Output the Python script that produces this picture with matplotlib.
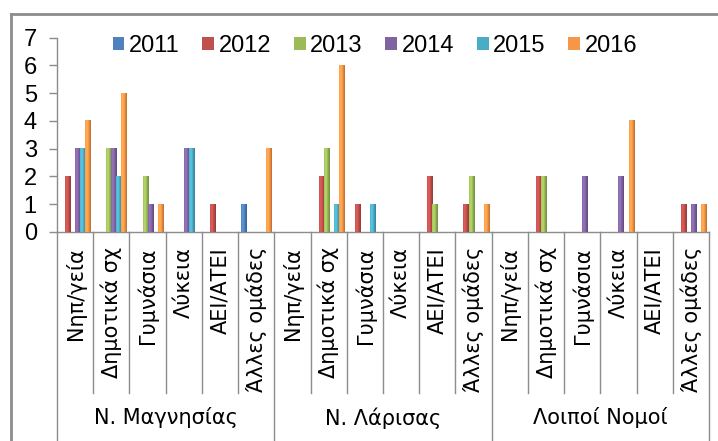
import numpy as np
import matplotlib.pyplot as plt
from matplotlib.colors import to_rgb
from matplotlib.patches import Patch
from matplotlib.lines import Line2D
import matplotlib.transforms as mtransforms

plt.rcParams['font.family'] = ['Liberation Sans', 'DejaVu Sans']

# Δεδομένα
years = ['2011', '2012', '2013', '2014', '2015', '2016']
schools = ['Νηπ/γεία', 'Δημοτικά σχ', 'Γυμνάσια', 'Λύκεια', 'ΑΕΙ/ΑΤΕΙ', 'Άλλες ομάδες']
regions = ['Ν. Μαγνησίας', 'Ν. Λάρισας', 'Λοιποί Νομοί']

# 18 κατηγορίες: (περιοχή x τύπος σχολείου)
v2011 = [0, 0, 0, 0, 0, 1,  0, 0, 0, 0, 0, 0,  0, 0, 0, 0, 0, 0]
v2012 = [2, 0, 0, 0, 1, 0,  0, 2, 1, 0, 2, 1,  0, 2, 0, 0, 0, 1]
v2013 = [0, 3, 2, 0, 0, 0,  0, 3, 0, 0, 1, 2,  0, 2, 0, 0, 0, 0]
v2014 = [3, 3, 1, 3, 0, 0,  0, 0, 0, 0, 0, 0,  0, 0, 2, 2, 0, 1]
v2015 = [3, 2, 0, 3, 0, 0,  0, 1, 1, 0, 0, 0,  0, 0, 0, 0, 0, 0]
v2016 = [4, 5, 1, 0, 0, 3,  0, 6, 0, 0, 0, 1,  0, 0, 0, 4, 0, 1]

series = [v2011, v2012, v2013, v2014, v2015, v2016]
colors = ['#4F81BD', '#C0504D', '#9BBB59', '#8064A2', '#4BACC6', '#F79646']

W, H = 718, 441
fig = plt.figure(figsize=(W / 100, H / 100), dpi=100)

# περιοχή σχεδίασης σε pixels
x0, x1 = 57, 709
y0, y1 = 232, 37.5
ax = fig.add_axes([x0 / W, 1 - y0 / H, (x1 - x0) / W, (y0 - y1) / H])

n = len(schools) * len(regions)
x = np.arange(n)
w = 1 / 7.2


def grad_bar(ax, bar, color):
    # οριζόντια διαβάθμιση όπως στο Excel 2007
    c = np.array(to_rgb(color))
    t = np.linspace(0, 1, 32)
    k = 1.0 + 0.18 * np.exp(-((t - 0.35) / 0.3) ** 2) - 0.25 * t ** 2
    img = np.clip(c[None, :] * k[:, None], 0, 1)[None, :, :]
    bx, by = bar.get_x(), bar.get_y()
    ax.imshow(img, extent=(bx, bx + bar.get_width(), by, by + bar.get_height()),
              aspect='auto', zorder=3, interpolation='bilinear')


for i, (vals, col) in enumerate(zip(series, colors)):
    bars = ax.bar(x + (i - 2.5) * w, vals, width=w, color=col, zorder=2, linewidth=0)
    for b, v in zip(bars, vals):
        if v > 0:
            grad_bar(ax, b, col)

ax.set_xlim(-0.5, n - 0.5)
ax.set_ylim(0, 7)
ax.set_yticks(range(0, 8))
ax.tick_params(axis='y', direction='out', length=5.5, width=1, color='#8c8c8c',
               labelsize=17, pad=9)
ax.set_xticks([])
for s in ['top', 'right']:
    ax.spines[s].set_visible(False)
for s in ['left', 'bottom']:
    ax.spines[s].set_color('#8c8c8c')
    ax.spines[s].set_linewidth(1)

# άξονας κατηγοριών δύο επιπέδων
trans = mtransforms.blended_transform_factory(ax.transData, ax.transAxes)
hpx = y0 - y1
inner_bot = -(393 - y0) / hpx
outer_bot = -(H - y0 + 5) / hpx
for k in range(n + 1):
    bot = outer_bot if k % 6 == 0 else inner_bot
    ax.plot([k - 0.5, k - 0.5], [0, bot], color='#8c8c8c', lw=1,
            transform=trans, clip_on=False)

lab_top = -(247 - y0) / hpx
for k in range(n):
    ax.text(k, lab_top, schools[k % 6], rotation=90, ha='center', va='top',
            fontsize=15, transform=trans, family=['DejaVu Sans'])

grp_y = -(418 - y0) / hpx
for g, r in enumerate(regions):
    ax.text(g * 6 + 2.5, grp_y, r, ha='center', va='center', fontsize=15,
            transform=trans, family=['DejaVu Sans'])

# υπόμνημα
handles = [Patch(facecolor=c, edgecolor='none') for c in colors]
fig.legend(handles, years, loc='center', bbox_to_anchor=(375 / W, 1 - 46 / H),
           ncol=6, frameon=False, fontsize=17, handlelength=0.5, handleheight=0.5,
           handletextpad=0.2, columnspacing=0.95, borderaxespad=0, borderpad=0)

# πλαίσιο γραφήματος (αριστερά και πάνω)
fig.add_artist(Line2D([11 / W, 11 / W], [0, 1 - 14 / H], color='#8c8c8c', lw=2))
fig.add_artist(Line2D([11 / W, 1], [1 - 14 / H, 1 - 14 / H], color='#8c8c8c', lw=2))

fig.savefig('out.png', dpi=100)
